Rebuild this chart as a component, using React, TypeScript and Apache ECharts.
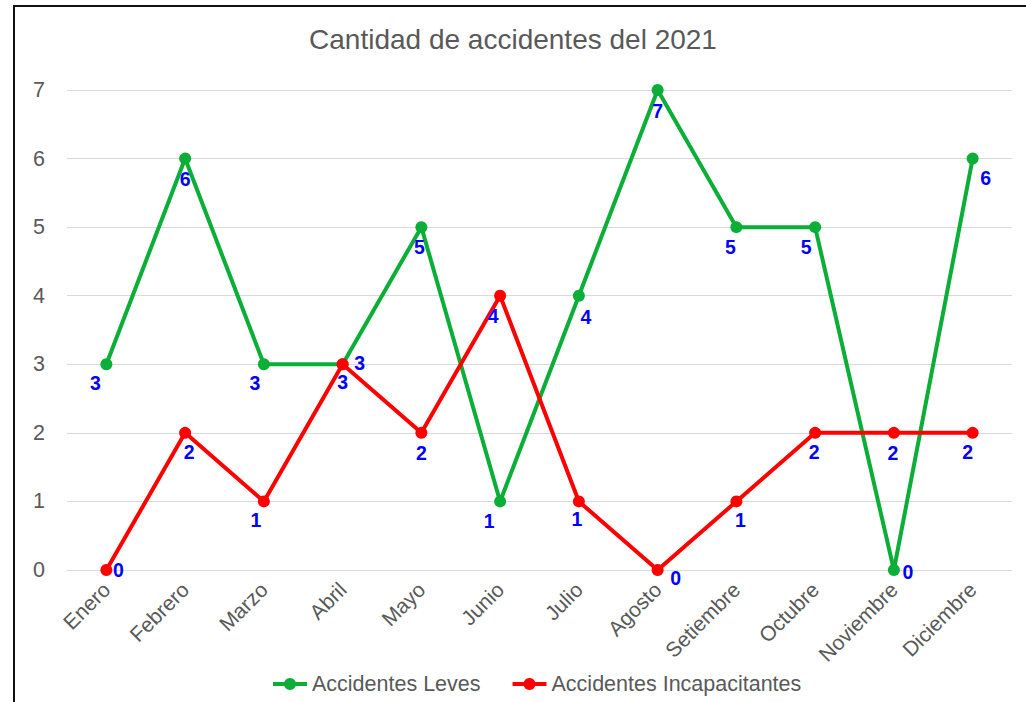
import React, { useEffect, useRef } from "react";
import * as echarts from "echarts";

const months = ["Enero", "Febrero", "Marzo", "Abril", "Mayo", "Junio", "Julio", "Agosto", "Setiembre", "Octubre", "Noviembre", "Diciembre"];
const leves = [3, 6, 3, 3, 5, 1, 4, 7, 5, 5, 0, 6];
const incapacitantes = [0, 2, 1, 3, 2, 4, 1, 0, 1, 2, 2, 2];
const levesLabelOffsets = [[-11, 19], [0, 20], [-9, 19], [0, 18], [-2, 20], [-11, 20], [7, 21], [0, 21], [-6, 20], [-9, 20], [14, 2], [13, 19]];
const incapLabelOffsets = [[12, 0], [4, 19], [-8, 19], [17, -1], [0, 20], [-7, 20], [-2, 18], [18, 8], [4, 19], [-1, 19], [-1, 20], [-5, 19]];
const yTicks = { min: 0, max: 7, interval: 1 };

const FONT = "Arial, 'Liberation Sans', sans-serif";

function buildData(values: number[], offsets: number[][]) {
  return values.map((v, i) => ({
    value: v,
    label: { offset: offsets[i] },
  }));
}

export default function App() {
  const ref = useRef<HTMLDivElement>(null);
  useEffect(() => {
    if (!ref.current) return;
    const chart = echarts.init(ref.current, null, { renderer: "svg" });
    const labelStyle = {
      show: true,
      position: "inside",
      color: "#0000FF",
      fontWeight: "bold",
      fontSize: 19.5,
      fontFamily: FONT,
    };
    chart.setOption({
      animation: false,
      backgroundColor: "#ffffff",
      title: {
        text: "Cantidad de accidentes del 2021",
        left: "center",
        top: 20,
        textStyle: { color: "#595959", fontSize: 28, fontWeight: "normal", fontFamily: FONT },
      },
      legend: {
        bottom: 2,
        left: 266,
        itemWidth: 34,
        itemHeight: 15,
        itemGap: 30,
        lineStyle: { width: 4 },
        textStyle: { color: "#595959", fontSize: 21.5, fontFamily: FONT },
        data: ["Accidentes Leves", "Accidentes Incapacitantes"],
      },
      grid: { left: 67, right: 14, top: 90, bottom: 132, containLabel: false },
      xAxis: {
        type: "category",
        data: months,
        boundaryGap: true,
        axisLine: { show: true, lineStyle: { color: "#d9d9d9", width: 1 } },
        axisTick: { show: false },
        axisLabel: { rotate: 45, color: "#595959", fontSize: 21, fontFamily: FONT, margin: 16, interval: 0 },
      },
      yAxis: {
        type: "value",
        min: yTicks.min,
        max: yTicks.max,
        interval: yTicks.interval,
        axisLine: { show: false },
        axisTick: { show: false },
        splitLine: { lineStyle: { color: "#d9d9d9", width: 1 } },
        axisLabel: { color: "#595959", fontSize: 21.5, fontFamily: FONT, margin: 22 },
      },
      series: [
        {
          name: "Accidentes Leves",
          type: "line",
          data: buildData(leves, levesLabelOffsets),
          symbol: "circle",
          symbolSize: 12,
          lineStyle: { color: "#0BAE36", width: 4 },
          itemStyle: { color: "#0BAE36" },
          label: labelStyle,
          z: 2,
        },
        {
          name: "Accidentes Incapacitantes",
          type: "line",
          data: buildData(incapacitantes, incapLabelOffsets),
          symbol: "circle",
          symbolSize: 12,
          lineStyle: { color: "#FF0000", width: 4 },
          itemStyle: { color: "#FF0000" },
          label: labelStyle,
          z: 3,
        },
      ],
      graphic: [
        { type: "line", shape: { x1: 14, y1: 5, x2: 14, y2: 702 }, style: { stroke: "#111", lineWidth: 2 } },
        { type: "line", shape: { x1: 13, y1: 6, x2: 1026, y2: 6 }, style: { stroke: "#111", lineWidth: 2 } },
      ],
    });
    return () => chart.dispose();
  }, []);
  return <div ref={ref} style={{ position: "fixed", left: 0, top: 0, width: 1026, height: 702 }} />;
}
